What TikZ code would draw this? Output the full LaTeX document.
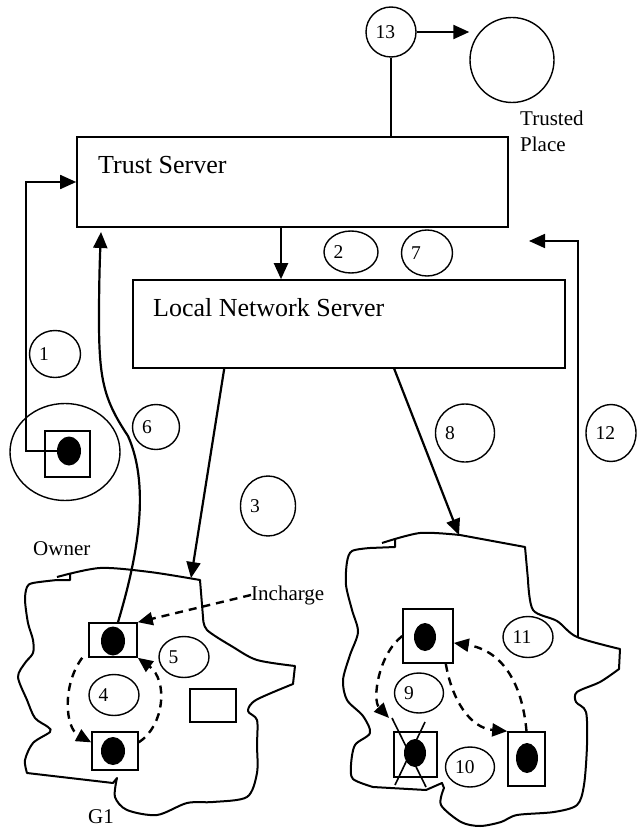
\documentclass[tikz,border=0pt]{standalone}
\usepackage{fontspec}
\setmainfont{Liberation Serif}
\usetikzlibrary{arrows.meta,shapes.geometric}
\tikzset{
  box/.style={draw, rectangle, line width=1.6pt, inner sep=0pt},
  numcirc/.style={draw, ellipse, line width=1.4pt, inner sep=0pt, minimum width=50pt, minimum height=41pt},
  nlabel/.style={label={[anchor=west, xshift=10pt, inner sep=0pt, font=\fontsize{19.5}{22}\selectfont]west:#1}},
  place/.style={draw, ellipse, line width=1.4pt, inner sep=0pt},
  dot/.style={fill, ellipse, inner sep=0pt, minimum width=24pt, minimum height=29pt},
  arr/.style={line width=2.2pt, -{Triangle[length=16pt,width=14pt]}},
  dasharr/.style={line width=2.4pt, dash pattern=on 8pt off 6pt, -{Triangle[length=15pt,width=13pt]}},
  blob/.style={line width=2pt, line join=round},
  bigtext/.style={font=\fontsize{26}{30}\selectfont, inner sep=0pt},
  smalltext/.style={font=\fontsize{21}{26}\selectfont, inner sep=0pt},
}
\begin{document}
\begin{tikzpicture}[x=1pt, y=-1pt]
    \useasboundingbox (0,0) rectangle (637,829);
    \node[numcirc, minimum width=50pt, minimum height=50pt, nlabel=13] (c13) at (391,32) {};
    \node[place, minimum width=84pt, minimum height=85pt] (tp) at (512,60) {};
    \node[smalltext, anchor=base west] (tp1) at (520,126) {Trusted};
    \node[smalltext, anchor=base west] (tp2) at (520,152) {Place};
    \node[box, minimum width=431pt, minimum height=90pt] (ts) at (292.5,182) {};
    \node[bigtext, anchor=base west] (tstext) at (98,174) {Trust Server};
    \node[numcirc, minimum width=54pt, minimum height=42pt, nlabel=2] (c2) at (351,252) {};
    \node[numcirc, minimum width=51pt, minimum height=46pt, nlabel=7] (c7) at (427,253) {};
    \node[box, minimum width=432pt, minimum height=88pt] (lns) at (349,324) {};
    \node[bigtext, anchor=base west] (lnstext) at (153,316) {Local Network Server};
    \node[numcirc, minimum width=51pt, minimum height=47pt, nlabel=1] (c1) at (55,354) {};
    \node[numcirc, minimum width=47pt, minimum height=45pt, nlabel=6] (c6) at (156,427) {};
    \node[numcirc, minimum width=59pt, minimum height=58pt, nlabel=8] (c8) at (465,433) {};
    \node[numcirc, minimum width=50pt, minimum height=57pt, nlabel=12] (c12) at (611,433) {};
    \node[numcirc, minimum width=55pt, minimum height=60pt, nlabel=3] (c3) at (268,506) {};
    \node[place, minimum width=110pt, minimum height=97pt] (owner) at (65,452) {};
    \node[box, minimum width=45pt, minimum height=46pt] (od) at (67.5,454) {};
    \node[dot] (odot) at (69,451) {};
    \node[smalltext, anchor=base west] (ownertext) at (33,555) {Owner};
    \node[smalltext, anchor=base west] (inch) at (251,600) {Incharge};
    \node[smalltext, anchor=base west] (g1text) at (88,823) {G1};
    % group G1
    \draw[blob] plot[smooth, tension=0.5] coordinates {(57,577) (100,568) (150,572) (200,580)}
        -- plot[smooth, tension=0.5] coordinates {(203,617) (207,630) (233,647) (257,660) (295,666)}
        -- plot[smooth, tension=0.5] coordinates {(293,684) (256,700) (248,711) (257,720) (257,745) (257,773) (247,797) (213,802) (187,803) (157,815) (127,810) (115,797) (117,778)}
        -- (113,783)
        -- plot[smooth, tension=0.5] coordinates {(27,773) (25,760) (33,743) (50,732) (48,727) (35,718) (27,700) (18,677) (25,663) (33,653) (33,640) (28,623) (25,600) (27,587) (33,583) (57,580)}
        -- (70,580) -- (70,573);
    \coordinate (g1top) at (191,578);
    \node[box, minimum width=48pt, minimum height=34pt] (g1a) at (113,640) {};
    \node[dot] (g1adot) at (113,641) {};
    \node[box, minimum width=46pt, minimum height=38pt] (g1b) at (115,751) {};
    \node[dot, minimum height=28pt] (g1bdot) at (113,751) {};
    \node[box, minimum width=46pt, minimum height=33pt] (g1c) at (213,705.5) {};
    \node[numcirc, nlabel=4] (c4) at (114,695) {};
    \node[numcirc, nlabel=5] (c5) at (184,657) {};
    % group G2
    \draw[blob] plot[smooth, tension=0.5] coordinates {(382,543) (420,533) (460,535)}
        -- (525,547)
        -- plot[smooth, tension=0.5] coordinates {(528,580) (533,610) (557,621) (577,637) (620,649)}
        -- plot[smooth, tension=0.5] coordinates {(619,669) (600,682) (577,692) (576,702) (586,712) (587,745) (584,785) (577,805) (554,812) (517,815) (501,822) (480,826) (461,822) (441,805) (444,788)}
        -- (442,783) -- (426,790)
        -- plot[smooth, tension=0.5] coordinates {(373,787) (353,779) (351,765) (355,745) (370,733) (363,716) (347,700) (343,680) (350,655) (358,632) (352,610) (346,585) (347,562) (352,551) (370,548)}
        -- (395,547) -- (395,538);
    \coordinate (g2top) at (459,535);
    \coordinate (g2r) at (578,637);
    \node[box, minimum width=50pt, minimum height=54pt] (g2a) at (428,636) {};
    \node[dot, minimum width=22pt, minimum height=28pt] (g2adot) at (425,637) {};
    \node[box, minimum width=43pt, minimum height=45pt] (g2c) at (415.5,754.5) {};
    \node[dot, minimum width=22pt, minimum height=28pt] (g2cdot) at (415,753) {};
    \node[box, minimum width=37pt, minimum height=54pt] (g2d) at (526.5,759) {};
    \node[dot, minimum width=22pt, minimum height=30pt] (g2ddot) at (527,758) {};
    \draw[line width=1.6pt] (395,785) -- (425,722) (426,787) -- (392,718);
    \node[numcirc, minimum width=49pt, minimum height=40pt, nlabel=9] (c9) at (419,693) {};
    \node[numcirc, minimum width=49pt, minimum height=40pt, nlabel=10] (c10) at (470,767) {};
    \node[numcirc, nlabel=11] (c11) at (528,637) {};
    % connectors
    \coordinate (t6) at (101,232);
    \coordinate (t9) at (389,718);
    \coordinate (t12) at (529,241);
    \draw[line width=1.6pt] (c13.south) -- (c13.south |- ts.north);
    \draw[arr] (c13.east) -- (c13.east -| tp.west);
    \draw[arr] ([xshift=-11.5pt]ts.south) -- ([xshift=-11.5pt]ts.south |- lns.north);
    \draw[line width=1.8pt, -{Triangle[length=16pt,width=14pt]}] (odot.west) -| ([xshift=-50pt]ts.west) -- (ts.west);
    \draw[line width=1.8pt, -{Triangle[length=16pt,width=14pt]}] (g2r) |- (t12);
    \draw[arr] ([xshift=92pt]lns.south west) -- (g1top);
    \draw[arr] ([xshift=262pt]lns.south west) -- (g2top);
    \draw[arr] ([xshift=5pt]g1a.north) .. controls (135,565) and (152,490) .. (128,436)
        .. controls (104,400) and (99,380) .. (99,320) .. controls (99,280) and (100,255) .. (t6);
    \draw[dasharr] (inch.west) -- (g1a.north east);
    \draw[dasharr] ([xshift=-6pt]g1a.south west) .. controls (62,685) and (65,728) .. (g1b.160);
    \draw[dasharr] (g1b.20) .. controls (165,725) and (168,680) .. (g1a.south east);
    \draw[dasharr] (g2a.west) .. controls (378,655) and (372,700) .. (t9);
    \draw[dasharr] ([xshift=-8pt]g2a.south east) .. controls (452,700) and (470,728) .. (g2d.north west);
    \draw[dasharr] (g2d.north) .. controls (522,680) and (500,650) .. (g2a.-15);
\end{tikzpicture}
\end{document}
